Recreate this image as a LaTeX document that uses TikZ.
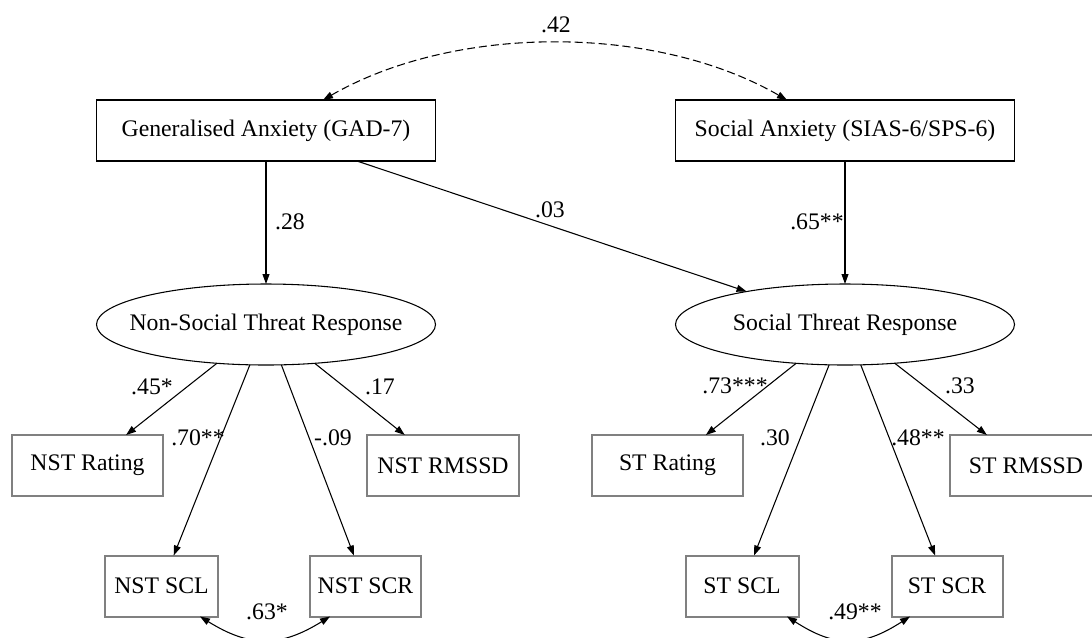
\documentclass[tikz,border=0pt]{standalone}
\usepackage{fontspec}
\setmainfont{Liberation Serif}
\usetikzlibrary{arrows.meta,shapes.geometric,calc}

\def\PX{0.75pt}

\begin{document}
\begin{tikzpicture}[x=0.75pt,y=-0.75pt,
  font=\fontsize{17.8}{21}\selectfont,
  tip/.tip={Triangle[length=7.5pt,width=5.2pt]},
  factorbox/.style={draw=black,line width=1pt,inner sep=0pt,outer sep=0pt,
    minimum width=339*\PX,minimum height=61*\PX},
  latent/.style={ellipse,draw=black,line width=0.8pt,inner sep=0pt,outer sep=0pt,
    minimum width=339*\PX,minimum height=81*\PX},
  indicator/.style={draw=gray,line width=1.5pt,inner sep=0pt,outer sep=0pt,
    minimum height=61*\PX},
  path/.style={draw=black,line width=0.8pt,-tip},
  covar/.style={draw=black,line width=0.8pt,tip-tip},
  coef/.style={inner sep=0pt,text=black}]

\useasboundingbox (0,0) rectangle (1092,637);

% exogenous anxiety measures
\node[factorbox] (gad) at (266,130.5) {Generalised Anxiety (GAD-7)};
\node[factorbox] (sa)  at (845,130.5) {Social Anxiety (SIAS-6/SPS-6)};

% latent threat responses
\node[latent] (nst) at (266,324.5) {\makebox[0pt][c]{Non-Social Threat Response}};
\node[latent] (st)  at (845,324.5) {\makebox[0pt][c]{Social Threat Response}};

% non-social indicators
\node[indicator,minimum width=151*\PX] (nstrat) at (87.5,465.5) {NST Rating};
\node[indicator,minimum width=152*\PX] (nstrms) at (443,465.5)  {NST RMSSD};
\node[indicator,minimum width=113*\PX] (nstscl) at (161.5,586)  {NST SCL};
\node[indicator,minimum width=111*\PX] (nstscr) at (365.5,586)  {NST SCR};

% social indicators
\node[indicator,minimum width=151*\PX] (strat) at (667.5,465.5) {ST Rating};
\node[indicator,minimum width=152*\PX] (strms) at (1026,465.5)  {ST RMSSD};
\node[indicator,minimum width=113*\PX] (stscl) at (742,586)     {ST SCL};
\node[indicator,minimum width=111*\PX] (stscr) at (947,586)     {ST SCR};

% structural paths
\draw[path] (gad) -- (nst);
\draw[path] (gad) -- (st);
\draw[path] (sa) -- (st);

% measurement paths
\draw[path] (nst) -- (nstrat);
\draw[path] (nst) -- (nstscl);
\draw[path] (nst) -- (nstscr);
\draw[path] (nst) -- (nstrms);
\draw[path] (st) -- (strat);
\draw[path] (st) -- (stscl);
\draw[path] (st) -- (stscr);
\draw[path] (st) -- (strms);

% covariances
\draw[covar,dash pattern=on 6pt off 3pt]
  ($(gad.north)+(57,0)$) .. controls +(132,-76) and +(-132,-76) .. ($(sa.north)+(-58,0)$);
\draw[covar] ($(nstscl.south)+(38.5,0)$) .. controls +(50,31) and +(-50,31) .. ($(nstscr.south)+(-35.5,0)$);
\draw[covar] ($(stscl.south)+(45,0)$) .. controls +(48,31) and +(-48,31) .. ($(stscr.south)+(-37,0)$);

% coefficients
\node[coef] (c42) at (556,25)   {.42};
\node[coef] (c28) at (290,222)  {.28};
\node[coef] (c03) at (550,210)  {.03};
\node[coef] (c65) at (817,222)  {.65**};
\node[coef] (c45) at (152,387)  {.45*};
\node[coef] (c70) at (198,438)  {.70**};
\node[coef] (c09) at (333,438)  {-.09};
\node[coef] (c17) at (380,387)  {.17};
\node[coef] (c63) at (267,612)  {.63*};
\node[coef] (c73) at (735,386)  {.73***};
\node[coef] (c30) at (775,438)  {.30};
\node[coef] (c48) at (918,438)  {.48**};
\node[coef] (c33) at (960,386)  {.33};
\node[coef] (c49) at (855,612)  {.49**};

\end{tikzpicture}
\end{document}
